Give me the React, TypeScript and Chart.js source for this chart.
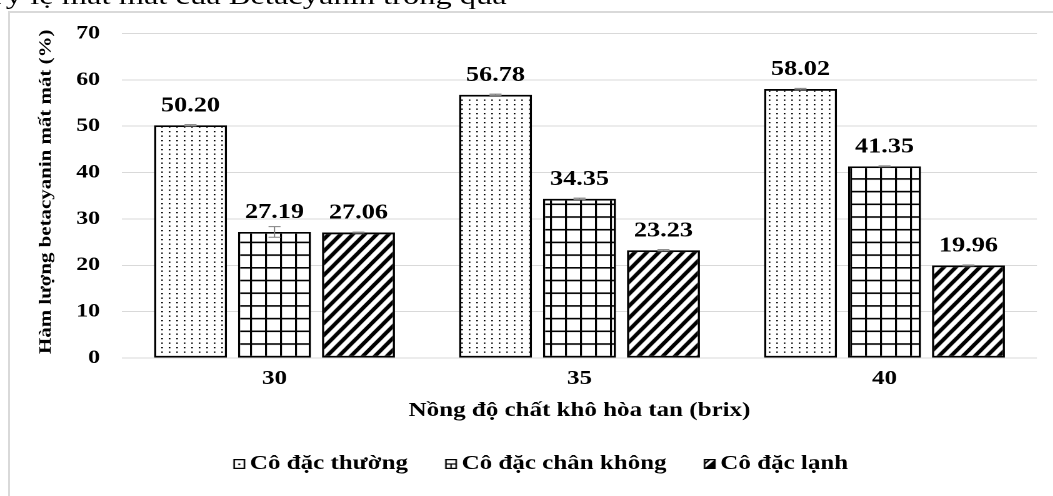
import React, { useEffect, useRef } from "react";
import { Chart, registerables } from "chart.js";

Chart.register(...registerables);

// ---------- data ----------
const categories = ["30", "35", "40"];
const seriesNames = ["Cô đặc thường", "Cô đặc chân không", "Cô đặc lạnh"];
const thuongValues = [50.2, 56.78, 58.02];
const chanKhongValues = [27.19, 34.35, 41.35];
const lanhValues = [27.06, 23.23, 19.96];
const thuongErrors = [0.15, 0.15, 0.15];
const chanKhongErrors = [1.15, 0.15, 0.1];
const lanhErrors = [0.1, 0.15, 0.1];
const yTickValues = [0, 10, 20, 30, 40, 50, 60, 70];
const xAxisTitle = "Nồng độ chất khô hòa tan (brix)";
const yAxisTitle = "Hàm lượng betacyanin mất mát (%)";
const captionText = "Tỷ lệ mất mát của Betacyanin trong quả";

// ---------- styling ----------
const SERIF = '"Liberation Serif", "Times New Roman", serif';
const S = 1.25; // horizontal stretch of the whole chart picture
const CW = 836;
const CH = 480;
const R = 2; // pattern resolution

function makePattern(w: number, h: number, draw: (c: CanvasRenderingContext2D) => void): CanvasPattern | string {
  const c = document.createElement("canvas");
  c.width = Math.round(w * R);
  c.height = Math.round(h * R);
  const g = c.getContext("2d")!;
  g.scale(c.width / w, c.height / h);
  g.fillStyle = "#fff";
  g.fillRect(0, 0, w, h);
  draw(g);
  const p = g.createPattern(c, "repeat");
  if (!p) return "#fff";
  try {
    p.setTransform(new DOMMatrix([w / c.width, 0, 0, h / c.height, 0, 0]));
  } catch (e) {}
  return p;
}

function dotPattern() {
  return makePattern(6, 4.5, (g) => {
    g.fillStyle = "#000";
    g.fillRect(1, 1, 1.3, 1.3);
  });
}

function gridPattern() {
  return makePattern(12, 12.7, (g) => {
    g.fillStyle = "#000";
    g.fillRect(0, 0, 1.6, 12.7);
    g.fillRect(0, 0, 12, 1.6);
  });
}

function hatchPattern() {
  const w = 9.6;
  const h = 12;
  return makePattern(w, h, (g) => {
    g.strokeStyle = "#000";
    g.lineWidth = 3.4;
    g.lineCap = "square";
    for (let k = -1; k <= 1; k++) {
      g.beginPath();
      g.moveTo(k * w, h);
      g.lineTo(k * w + w, 0);
      g.stroke();
    }
  });
}

// legend icons: 18x10 image, icon square drawn on its right part
function makeIcon(kind: number): Promise<HTMLImageElement> {
  const W = 18, H = 10, K = 4;
  const c = document.createElement("canvas");
  c.width = W * K;
  c.height = H * K;
  const g = c.getContext("2d")!;
  g.scale(K, K);
  const x0 = 6.4, y0 = 0.6, bw = 8.2, bh = 8.8;
  g.fillStyle = "#fff";
  g.fillRect(x0, y0, bw, bh);
  g.save();
  g.beginPath();
  g.rect(x0, y0, bw, bh);
  g.clip();
  g.fillStyle = "#000";
  g.strokeStyle = "#000";
  if (kind === 0) {
    g.fillRect(x0 + bw / 2 - 0.8, y0 + bh / 2 - 0.5, 1.6, 1.6);
  } else if (kind === 1) {
    g.fillRect(x0, y0 + bh / 2 - 0.6, bw, 1.2);
    g.fillRect(x0 + bw / 2 - 0.6, y0 + bh / 2, 1.2, bh / 2);
  } else {
    g.beginPath();
    g.moveTo(x0 + bw, y0);
    g.lineTo(x0 + bw, y0 + bh);
    g.lineTo(x0, y0 + bh);
    g.closePath();
    g.fill();
    g.lineWidth = 1.4;
    g.beginPath();
    g.moveTo(x0 - 2, y0 + bh / 2 + 2);
    g.lineTo(x0 + bw / 2 + 2, y0 - 2);
    g.stroke();
  }
  g.restore();
  g.lineWidth = 1.3;
  g.strokeRect(x0, y0, bw, bh);
  const img = new Image(W, H);
  img.src = c.toDataURL();
  return img.decode().then(() => img, () => img);
}

const errorSets = [thuongErrors, chanKhongErrors, lanhErrors];

const valueLabelPlugin = {
  id: "valueLabels",
  afterDatasetsDraw(chart: any) {
    const ctx = chart.ctx as CanvasRenderingContext2D;
    const yScale = chart.scales.y;
    chart.data.datasets.forEach((ds: any, di: number) => {
      const meta = chart.getDatasetMeta(di);
      const errs = errorSets[di];
      meta.data.forEach((bar: any, i: number) => {
        const v = ds.data[i] as number;
        const e = errs[i];
        const yTop = yScale.getPixelForValue(v + e);
        const yBot = yScale.getPixelForValue(v - e);
        ctx.save();
        ctx.strokeStyle = "#808080";
        ctx.lineWidth = 1;
        ctx.beginPath();
        ctx.moveTo(bar.x, yTop);
        ctx.lineTo(bar.x, yBot);
        ctx.moveTo(bar.x - 4.8, yTop);
        ctx.lineTo(bar.x + 4.8, yTop);
        ctx.moveTo(bar.x - 4.8, yBot);
        ctx.lineTo(bar.x + 4.8, yBot);
        ctx.stroke();
        ctx.fillStyle = "#000";
        ctx.font = `bold 21px ${SERIF}`;
        ctx.textAlign = "center";
        ctx.textBaseline = "alphabetic";
        ctx.fillText(v.toFixed(2), bar.x, bar.y - 14);
        ctx.restore();
      });
    });
  },
};

const yTitlePlugin = {
  id: "yTitleStretched",
  afterDraw(chart: any) {
    const ctx = chart.ctx as CanvasRenderingContext2D;
    const area = chart.chartArea;
    const cy = (area.top + area.bottom) / 2 - 4;
    ctx.save();
    ctx.translate(29, cy);
    ctx.scale(1 / S, 1.23);
    ctx.rotate(-Math.PI / 2);
    ctx.fillStyle = "#000";
    ctx.font = `bold 17px ${SERIF}`;
    ctx.textAlign = "center";
    ctx.textBaseline = "middle";
    ctx.fillText(yAxisTitle, 0, 0);
    ctx.restore();
  },
};

export default function App() {
  const ref = useRef<HTMLCanvasElement>(null);

  useEffect(() => {
    document.documentElement.style.overflow = "hidden";
    document.body.style.overflow = "hidden";
    const canvas = ref.current;
    if (!canvas) return;
    let chart: Chart | null = null;
    let cancelled = false;
    Promise.all([makeIcon(0), makeIcon(1), makeIcon(2)]).then((icons) => {
      if (cancelled) return;
      const patterns = [dotPattern(), gridPattern(), hatchPattern()];
      const values = [thuongValues, chanKhongValues, lanhValues];
      chart = new Chart(canvas, {
        type: "bar",
        data: {
          labels: categories,
          datasets: seriesNames.map((name, i) => ({
            label: name,
            data: values[i],
            backgroundColor: patterns[i] as any,
            borderColor: "#000",
            borderWidth: 1.8,
            borderSkipped: false,
            categoryPercentage: 0.826,
            barPercentage: 0.869,
          })),
        },
        options: {
          responsive: false,
          animation: false,
          devicePixelRatio: 2,
          layout: { padding: { left: 30.8, right: 14.4, top: 20.5, bottom: 9 } },
          plugins: {
            legend: {
              position: "bottom",
              labels: {
                usePointStyle: true,
                pointStyleWidth: 0.01,
                boxHeight: 10,
                padding: 33,
                color: "#000",
                font: { family: SERIF, size: 20, weight: "bold" },
                generateLabels: (ch: any) =>
                  Chart.defaults.plugins.legend.labels.generateLabels(ch).map((item: any, i: number) => ({
                    ...item,
                    pointStyle: icons[i],
                  })),
              },
            },
            tooltip: { enabled: false },
          },
          scales: {
            x: {
              grid: { display: false, drawTicks: false },
              border: { display: false },
              ticks: {
                color: "#000",
                padding: 9,
                font: { family: SERIF, size: 20, weight: "bold" },
              },
              title: {
                display: true,
                text: xAxisTitle,
                color: "#000",
                padding: { top: 0, bottom: -2 },
                font: { family: SERIF, size: 20, weight: "bold" },
              },
              afterFit: (scale: any) => {
                scale.height = 63;
              },
            },
            y: {
              min: 0,
              max: 70,
              afterBuildTicks: (scale: any) => {
                scale.ticks = yTickValues.map((v) => ({ value: v }));
              },
              afterFit: (scale: any) => {
                scale.width = 58.8;
              },
              grid: {
                color: "#d9d9d9",
                lineWidth: 1,
                drawTicks: true,
                tickLength: 17.6,
                tickColor: "rgba(0,0,0,0)",
              },
              border: { display: false },
              ticks: {
                color: "#000",
                padding: 0,
                font: { family: SERIF, size: 19, weight: "bold" },
              },
            },
          },
        },
        plugins: [valueLabelPlugin, yTitlePlugin],
      });
    });
    return () => {
      cancelled = true;
      if (chart) chart.destroy();
    };
  }, []);

  return (
    <>
      <div
        style={{
          position: "fixed",
          left: 8,
          top: 11,
          width: 1100,
          height: 520,
          border: "2px solid #d9d9d9",
          background: "#fff",
        }}
      >
        <div style={{ width: CW, height: CH, transform: `scaleX(${S})`, transformOrigin: "0 0" }}>
          <canvas ref={ref} width={CW} height={CH} style={{ display: "block", width: CW, height: CH }} />
        </div>
      </div>
      <div
        style={{
          position: "fixed",
          left: -14,
          top: -16.8,
          fontFamily: SERIF,
          fontSize: 26,
          lineHeight: "26px",
          whiteSpace: "nowrap",
          color: "#000",
          transform: `scaleX(${S})`,
          transformOrigin: "0 0",
        }}
      >
        {captionText}
      </div>
    </>
  );
}
